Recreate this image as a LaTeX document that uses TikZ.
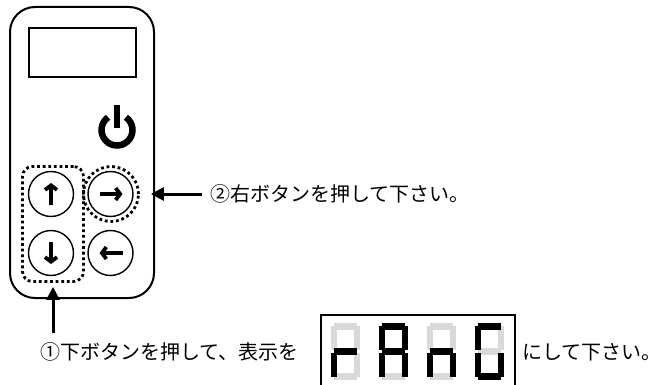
\documentclass[tikz,border=0pt]{standalone}
\usepackage{fontspec}
\setmainfont{Noto Sans CJK JP}
\usepackage{tikz}
\usetikzlibrary{arrows.meta}
\definecolor{seggray}{HTML}{D9D9D9}
\tikzset{
  btn/.style={draw, circle, line width=1.4pt, minimum size=45pt, inner sep=0pt},
  btnarrow/.style={line width=3.8pt, -{Straight Barb[length=4.5pt,width=12pt]}},
  ptr/.style={line width=3pt, -{Triangle[length=13pt,width=13pt]}},
  dots/.style={draw, line width=2.8pt, dash pattern=on 2.8pt off 2.8pt},
  lbl/.style={anchor=west, inner sep=0pt, font=\fontsize{20}{22}\selectfont},
  segon/.style={color=black},
  segoff/.style={color=seggray},
  seg a/.pic={\fill (3,0) rectangle (26,7);},
  seg b/.pic={\fill (23,3) rectangle (29,27);},
  seg c/.pic={\fill (23,30) rectangle (29,54);},
  seg d/.pic={\fill (3,50) rectangle (26,57);},
  seg e/.pic={\fill (0,30) rectangle (6,54);},
  seg f/.pic={\fill (0,3) rectangle (6,27);},
  seg g/.pic={\fill (3,25) rectangle (26,32);},
}
\begin{document}
\begin{tikzpicture}[scale=1.000000,x=1pt,y=-1pt]
\useasboundingbox (0.000000,0.000000) rectangle (656.000000,385.000000);
\fill[color=white] (0.000000,0.000000) rectangle (656.000000,385.000000);
% Drawing remote
\node[draw, line width=2pt, rounded corners=25pt, minimum width=144pt, minimum height=291pt] (remote) at (82.000000,152.500000) {};
\node[draw, line width=1.4pt, minimum width=107pt, minimum height=49pt] (screen) at (82.500000,52.500000) {};
% power symbol
\draw[line width=6.5pt] (117.000000,130.000000) ++(305:15.5) arc[start angle=305, end angle=595, radius=15.5];
\draw[line width=6pt] (117.000000,105.000000) -- (117.000000,128.000000);
% Done with remote; drawing buttons
\node[btn] (btnup) at (51.000000,194.000000) {};
\node[btn] (btnright) at (110.500000,194.000000) {};
\node[btn] (btndown) at (51.000000,253.000000) {};
\node[btn] (btnleft) at (110.500000,253.000000) {};
\draw[btnarrow] ([yshift=-11pt]btnup.center) -- ([yshift=11pt]btnup.center);
\draw[btnarrow] ([xshift=-11pt]btnright.center) -- ([xshift=12pt]btnright.center);
\draw[btnarrow] ([yshift=11pt]btndown.center) -- ([yshift=-11pt]btndown.center);
\draw[btnarrow] ([xshift=12pt]btnleft.center) -- ([xshift=-11pt]btnleft.center);
% dotted marks
\node[dots, rounded corners=10pt, minimum width=61pt, minimum height=115pt] (grp) at (53.000000,224.000000) {};
\node[dots, circle, minimum size=55pt] (rgrp) at (111.000000,194.000000) {};
% Done with buttons; drawing labels
\node[lbl] (lbl2) at (210.000000,194.000000) {②右ボタンを押して下さい。};
\draw[ptr, shorten <=8pt, shorten >=11pt] (lbl2.west) -- (rgrp.east);
\node[lbl] (lbl1) at (40.000000,352.000000) {①下ボタンを押して、表示を};
\coordinate (a1) at (53.000000,333.000000);
\draw[ptr, shorten >=4pt] (a1) -- (grp.south);
\node[lbl] (lbl3) at (522.000000,352.000000) {にして下さい。};
% Display rAnG
\draw[line width=1.4pt] (321.000000,385.000000) |- (515.000000,315.000000) -- (515.000000,385.000000);
\foreach \dx in {331,379,427,475}
  \foreach \s in {a,b,c,d,e,f,g}
    \pic[segoff] at (\dx,323) {seg \s};
\foreach \dx/\segs in {331/{e,g},379/{a,b,c,e,f,g},427/{c,e,g},475/{a,c,d,e,f}}
  \foreach \s in \segs
    \pic[segon] at (\dx,323) {seg \s};
% Done with display
\end{tikzpicture}
\end{document}
